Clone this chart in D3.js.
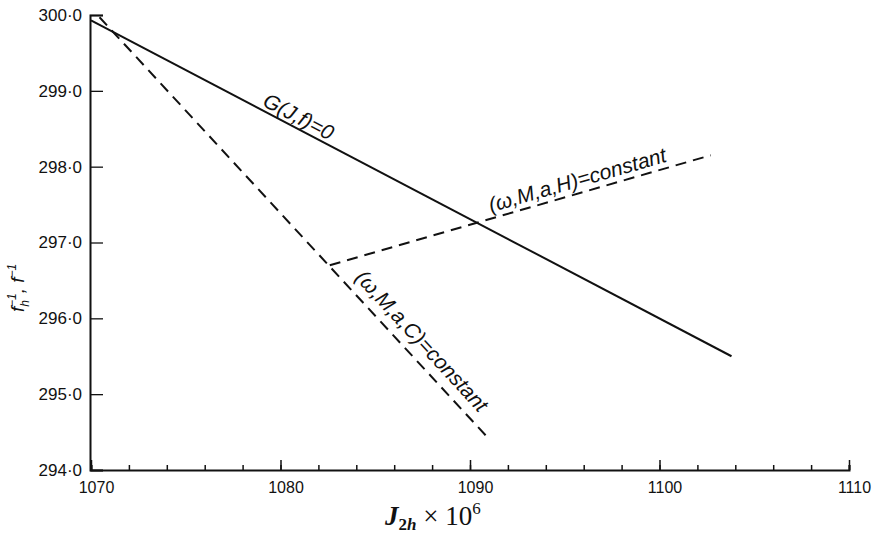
<!DOCTYPE html>
<html>
<head>
<meta charset="utf-8">
<script src="https://cdn.jsdelivr.net/npm/d3@7"></script>
<style>
  html, body { margin: 0; padding: 0; background: #fff; }
  svg { display: block; }
</style>
</head>
<body>
<div id="chart"></div>
<script>
"use strict";

/* ── Data ── */
const xTicks      = [1070, 1080, 1090, 1100, 1110];
const xMinorTicks = d3.range(1070, 1111, 2);
const yTicks      = [294, 295, 296, 297, 298, 299, 300];

// G(J,f)=0 — solid line
const gLine = [[1070.0, 299.93], [1103.8, 295.50]];
// (ω,M,a,C)=constant — dashed
const cLine = [[1070.45, 299.97], [1091.0, 294.41]];
// (ω,M,a,H)=constant — dashed
const hLine = [[1082.6, 296.70], [1102.7, 298.15]];

const lineLabels = [
  { line: gLine, text: "G(J,f)=0",           at: 1078.9, offset: -4 },
  { line: hLine, text: "(ω,M,a,H)=constant", at: 1091.2, offset: -6 },
  { line: cLine, text: "(ω,M,a,C)=constant", at: 1083.5, offset: -10 },
];

/* ── Dimensions ── */
const W = 872, H = 534;
const x = d3.scaleLinear().domain([1070, 1110]).range([91, 849]);
const y = d3.scaleLinear().domain([294, 300]).range([470, 15]);

const svg = d3.select("#chart").append("svg")
  .attr("width", W).attr("height", H);

const ink = "#111";
const sans = "'Liberation Sans', Arial, sans-serif";
const serif = "'Liberation Serif', 'Times New Roman', serif";

/* ── Axes ── */
const fmtY = v => d3.format(".1f")(v).replace(".", "·");

svg.append("g")
  .attr("transform", `translate(0,${y(294)})`)
  .call(d3.axisBottom(x).tickValues(xMinorTicks).tickSize(-5).tickFormat(""))
  .call(g => {
    g.select(".domain").attr("stroke", ink).attr("stroke-width", 2);
    g.selectAll(".tick line").attr("stroke", ink).attr("stroke-width", 1.5);
  });

svg.append("g")
  .attr("transform", `translate(0,${y(294)})`)
  .call(d3.axisBottom(x).tickValues(xTicks).tickSize(-10).tickPadding(12).tickFormat(d3.format("d")))
  .call(g => {
    g.select(".domain").remove();
    g.selectAll(".tick line").attr("stroke", ink).attr("stroke-width", 1.5);
    g.selectAll(".tick text").attr("fill", ink).attr("font-size", "16px")
      .attr("font-family", sans).attr("dx", 5);
  });

svg.append("g")
  .attr("transform", `translate(${x(1070) - 1},0)`)
  .call(d3.axisLeft(y).tickValues(yTicks).tickSize(-13).tickPadding(8).tickFormat(fmtY))
  .call(g => {
    g.select(".domain").attr("stroke", ink).attr("stroke-width", 2);
    g.selectAll(".tick line").attr("stroke", ink).attr("stroke-width", 1.3);
    g.selectAll(".tick text").attr("fill", ink).attr("font-size", "17px")
      .attr("font-family", sans);
  });

/* ── Lines ── */
const line = d3.line().x(d => x(d[0])).y(d => y(d[1]));

svg.append("path").datum(gLine)
  .attr("d", line).attr("fill", "none")
  .attr("stroke", ink).attr("stroke-width", 2);

[cLine, hLine].forEach(l => {
  svg.append("path").datum(l)
    .attr("d", line).attr("fill", "none")
    .attr("stroke", ink).attr("stroke-width", 2)
    .attr("stroke-dasharray", "11,7");
});

/* ── Line labels ── */
lineLabels.forEach(lb => {
  const [p0, p1] = lb.line;
  const t  = (lb.at - p0[0]) / (p1[0] - p0[0]);
  const vy = p0[1] + t * (p1[1] - p0[1]);
  const px = x(lb.at), py = y(vy);
  const ang = Math.atan2(y(p1[1]) - y(p0[1]), x(p1[0]) - x(p0[0])) * 180 / Math.PI;
  svg.append("text")
    .attr("transform", `translate(${px},${py}) rotate(${ang}) translate(0,${lb.offset})`)
    .attr("font-family", sans).attr("font-style", "italic")
    .attr("font-size", "21px").attr("fill", ink)
    .text(lb.text);
});

/* ── Axis titles ── */
const xt = svg.append("text")
  .attr("x", 385).attr("y", 525)
  .attr("font-family", serif).attr("font-size", "27px").attr("fill", ink);
xt.append("tspan").attr("font-style", "italic").attr("font-weight", "bold").text("J");
xt.append("tspan").attr("font-size", "17px").attr("font-weight", "bold")
  .attr("dy", 5).text("2");
xt.append("tspan").attr("font-size", "17px").attr("font-style", "italic")
  .attr("font-weight", "bold").text("h");
xt.append("tspan").attr("dy", -5).text(" × 10");
xt.append("tspan").attr("font-size", "17px").attr("dy", -11).text("6");

const yt = svg.append("text")
  .attr("transform", "translate(24,312) rotate(-90)")
  .attr("font-family", sans).attr("font-style", "italic")
  .attr("font-size", "19px").attr("fill", ink);
yt.append("tspan").text("f");
yt.append("tspan").attr("font-size", "12px").attr("dy", 5).text("h");
yt.append("tspan").attr("font-size", "12px").attr("dy", -13).attr("dx", -7).text("−1");
yt.append("tspan").attr("dy", 8).text(", f");
yt.append("tspan").attr("font-size", "12px").attr("dy", -8).text("−1");
</script>
</body>
</html>
